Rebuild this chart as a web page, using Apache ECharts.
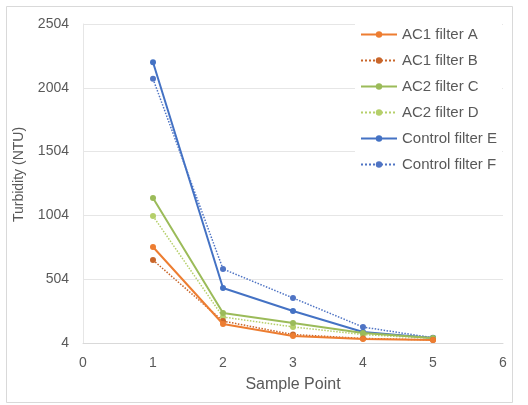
<!DOCTYPE html>
<html><head><meta charset="utf-8">
<script src="https://cdn.jsdelivr.net/npm/echarts@6/dist/echarts.min.js"></script>
<style>html,body{margin:0;padding:0;background:#fff}#c{width:528px;height:405px}</style>
</head><body><div id="c"></div>
<script>
var samplePoints = [1, 2, 3, 4, 5];
var seriesNames = ['AC1 filter A', 'AC1 filter B', 'AC2 filter C', 'AC2 filter D', 'Control filter E', 'Control filter F'];
var ac1A = [756, 153, 59, 35, 27];
var ac1B = [654, 176, 70, 40, 28];
var ac2C = [1140, 239, 161, 82, 43];
var ac2D = [999, 208, 130, 70, 40];
var ctrlE = [2204, 435, 255, 90, 43];
var ctrlF = [2074, 584, 357, 129, 45];
var yTicks = [4, 504, 1004, 1504, 2004, 2504];
var xTicks = [0, 1, 2, 3, 4, 5, 6];

var allData = [ac1A, ac1B, ac2C, ac2D, ctrlE, ctrlF];
var colors = ['#ED7D31', '#C9662A', '#9BBB59', '#B5CF6A', '#4472C4', '#4F74C4'];
var dashed = [false, true, false, true, false, true];

var series = allData.map(function (vals, i) {
  return {
    name: seriesNames[i],
    type: 'line',
    data: vals.map(function (v, j) { return [samplePoints[j], v]; }),
    symbol: 'circle',
    symbolSize: 6,
    color: colors[i],
    lineStyle: { width: dashed[i] ? 1.5 : 2, type: dashed[i] ? 'dotted' : 'solid', color: colors[i] },
    itemStyle: { color: colors[i] },
    z: 10 - i
  };
});

var chart = echarts.init(document.getElementById('c'), null, { renderer: 'canvas' });
chart.setOption({
  animation: false,
  backgroundColor: '#fff',
  graphic: [{ type: 'rect', shape: { x: 6.5, y: 6.5, width: 506, height: 396 }, style: { fill: 'none', stroke: '#d9d9d9', lineWidth: 1 }, silent: true }],
  grid: { left: 83, right: 25, top: 24, bottom: 62 },
  legend: {
    orient: 'vertical', left: 355, top: 22,
    itemWidth: 36, itemHeight: 8, itemGap: 11,
    backgroundColor: '#fff',
    textStyle: { fontFamily: 'Liberation Sans, Arial', fontSize: 15, color: '#595959' },
    data: seriesNames
  },
  xAxis: {
    type: 'value', min: xTicks[0], max: xTicks[xTicks.length - 1], interval: 1,
    name: 'Sample Point', nameLocation: 'middle', nameGap: 34,
    nameTextStyle: { fontFamily: 'Liberation Sans, Arial', fontSize: 16, color: '#595959' },
    axisLine: { show: true, lineStyle: { color: '#d9d9d9' } },
    axisTick: { show: false },
    splitLine: { show: false },
    axisLabel: { fontFamily: 'Liberation Sans, Arial', fontSize: 14, color: '#595959', margin: 13 }
  },
  yAxis: {
    type: 'value', min: yTicks[0], max: yTicks[yTicks.length - 1], interval: 500,
    name: 'Turbidity (NTU)', nameLocation: 'middle', nameGap: 57, nameRotate: 90,
    nameTextStyle: { fontFamily: 'Liberation Sans, Arial', fontSize: 14, color: '#595959', padding: [0, 0, 0, 18] },
    axisLine: { show: true, lineStyle: { color: '#e6e6e6' } },
    axisTick: { show: false },
    splitLine: { show: true, lineStyle: { color: '#e6e6e6' } },
    axisLabel: { fontFamily: 'Liberation Sans, Arial', fontSize: 14, color: '#595959', margin: 14,
      formatter: function (v) { return String(v); } }
  },
  series: series
});
</script></body></html>
